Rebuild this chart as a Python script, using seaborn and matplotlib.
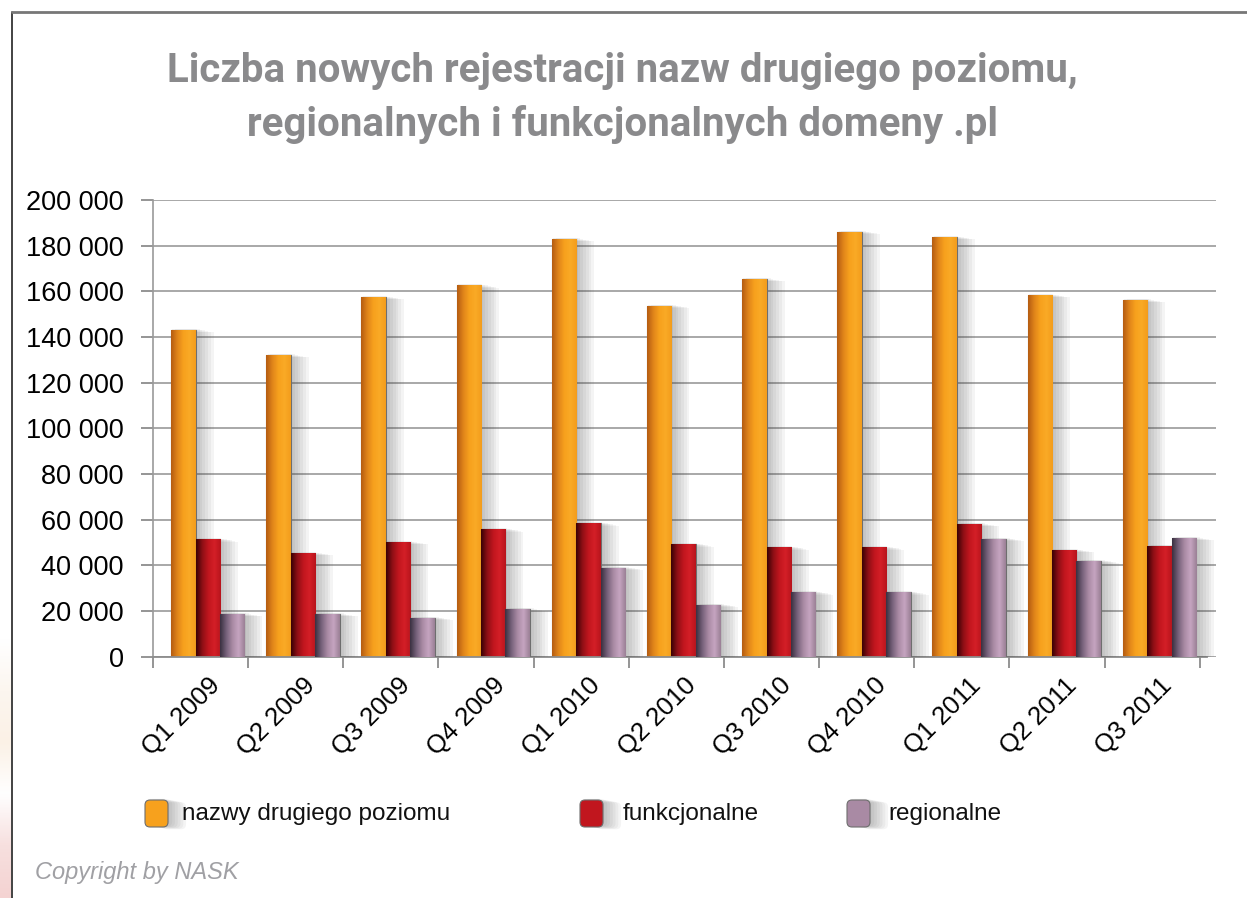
import matplotlib
matplotlib.use("Agg")
import matplotlib.pyplot as plt
import matplotlib.patheffects as pe
import numpy as np
import pandas as pd
import seaborn as sns
from matplotlib import font_manager
from matplotlib.colors import LinearSegmentedColormap
from matplotlib.lines import Line2D
from matplotlib.patches import FancyBboxPatch


kwartaly = ["Q1 2009", "Q2 2009", "Q3 2009", "Q4 2009", "Q1 2010", "Q2 2010",
            "Q3 2010", "Q4 2010", "Q1 2011", "Q2 2011", "Q3 2011"]
nazwy_drugiego_poziomu = [143100, 132100, 157400, 162600, 182900, 153700,
                          165400, 186100, 183700, 158300, 156200]
funkcjonalne = [51400, 45300, 50200, 55800, 58400, 49200,
                47900, 47900, 58100, 46700, 48500]
regionalne = [18700, 18700, 17100, 20900, 39000, 22800,
              28200, 28200, 51700, 42000, 52000]
serie = ["nazwy drugiego poziomu", "funkcjonalne", "regionalne"]
kolory = ["#F7A11D", "#C1161E", "#A98AA4"]
y_ticks = list(range(0, 200001, 20000))

tytul = "Liczba nowych rejestracji nazw drugiego poziomu,\nregionalnych i funkcjonalnych domeny .pl"

# gradients across each bar (left dark -> right light), like the shaded columns
gradienty = [
    ["#B45C12", "#E0841A", "#F7A11D", "#FAAA26", "#F39D1C"],
    ["#3A0205", "#8E0F15", "#C1161E", "#D41F27", "#B8141C"],
    ["#3A3040", "#76617A", "#A98AA4", "#C6A5C1", "#9A8096"],
]

nazwy_rodzin = {f.name for f in font_manager.fontManager.ttflist}
waski = "Liberation Sans Narrow" if "Liberation Sans Narrow" in nazwy_rodzin else "Roboto"

sns.set_theme(style="white")
plt.rcParams["font.family"] = ["Liberation Sans", "DejaVu Sans"]

df = pd.DataFrame({
    "kwartal": kwartaly * 3,
    "typ": np.repeat(serie, len(kwartaly)),
    "liczba": nazwy_drugiego_poziomu + funkcjonalne + regionalne,
})

fig = plt.figure(figsize=(12.47, 8.98), dpi=100)
ax = fig.add_axes([153 / 1247, 241.3 / 898, (1216 - 153) / 1247, 456.7 / 898])

sns.barplot(data=df, x="kwartal", y="liczba", hue="typ", palette=kolory,
            saturation=1, width=0.77, gap=0, legend=False, ax=ax,
            edgecolor="#6e6e6e", linewidth=0.8)

# soft drop shadow: several faint offset copies
cienie = [pe.SimplePatchShadow(offset=(d, -d / 5 + 1), shadow_rgbFace="0.25",
                               alpha=0.055)
          for d in (13, 11, 9, 7, 5, 3, 1)]
cienie.append(pe.Normal())

grad = np.linspace(0, 1, 64).reshape(1, -1)
n = len(kwartaly)
for i, bar in enumerate(ax.patches):
    typ = i // n
    cmap = LinearSegmentedColormap.from_list(f"g{typ}", gradienty[typ])
    bar.set_zorder(2 + typ * 0.3)
    bar.set_path_effects(cienie)
    x0, y0 = bar.get_x(), bar.get_y()
    w, h = bar.get_width(), bar.get_height()
    im = ax.imshow(grad, cmap=cmap, aspect="auto", interpolation="bicubic",
                   extent=(x0, x0 + w, y0, y0 + h), zorder=2.1 + typ * 0.3)
    im.set_clip_path(bar)

przes = 0.075  # bars sit a little right of the category centre in the original
ax.set_xlim(-0.5 - przes, 10.67 - przes)
ax.set_ylim(0, 200000)
ax.set_yticks(y_ticks)
ax.set_yticklabels([f"{v:,}".replace(",", " ") for v in y_ticks])
ax.yaxis.grid(True, color="#a8a8a8", lw=1.4)
ax.set_axisbelow(True)

ax.set_xticks(np.arange(-0.5, 11, 1) - przes)
ax.set_xticklabels([])
ax.set_xticks(range(n), minor=True)
ax.set_xticklabels(kwartaly, minor=True, rotation=45, ha="right", va="top",
                   rotation_mode="anchor", fontsize=18.5, color="black")
ax.tick_params(axis="x", which="major", length=8, width=1.3, color="#8c8c8c",
               direction="out", bottom=True)
ax.tick_params(axis="x", which="minor", length=0, pad=12, bottom=True)
ax.tick_params(axis="y", length=9, width=1.3, color="#8c8c8c", direction="out",
               left=True, pad=12, labelsize=19.5, labelcolor="black")
ax.set_xlabel("")
ax.set_ylabel("")
for s in ["top", "right"]:
    ax.spines[s].set_visible(False)
ax.spines["left"].set_color("#9a9a9a")
ax.spines["bottom"].set_color("#8c8c8c")
ax.spines["left"].set_linewidth(1.2)
ax.spines["bottom"].set_linewidth(1.3)
ax.spines["bottom"].set_bounds(-0.5 - przes, 10.58 - przes)

fig.text(0.499, 0.891, tytul, ha="center", va="center", fontsize=29,
         fontweight="bold", color="#8a8a8c", family=[waski, "DejaVu Sans"],
         linespacing=1.5)

# legend built by hand to keep the uneven spacing
legenda_x = [145, 580, 847]
tekst_x = [182, 623, 888]
for k in range(3):
    box = FancyBboxPatch((legenda_x[k] / 100, 0.71), 0.23, 0.27,
                         boxstyle="round,pad=0,rounding_size=0.05",
                         transform=fig.dpi_scale_trans, facecolor=kolory[k],
                         edgecolor="#6e6e6e", linewidth=0.8)
    box.set_path_effects(cienie)
    fig.patches.append(box)
    fig.text(tekst_x[k] / 1247, 1 - 814 / 898, serie[k], ha="left", va="center",
             fontsize=17.5, color="#111111")

fig.text(35 / 1247, 1 - 873 / 898, "Copyright by NASK", ha="left", va="center",
         fontsize=17, style="italic", color="#a0a0a4")

# frame of the picture
fig.add_artist(Line2D([12 / 1247, 12 / 1247], [0, 1 - 12 / 898],
                      transform=fig.transFigure, color="#222222", lw=1.2))
fig.add_artist(Line2D([12 / 1247, 1], [1 - 12 / 898, 1 - 12 / 898],
                      transform=fig.transFigure, color="#777777", lw=2))

# faint coloured strip at the bottom-left edge
pasek = fig.add_axes([0, 0, 11 / 1247, 260 / 898])
pasek_kolory = LinearSegmentedColormap.from_list(
    "pasek", ["#F4D3D2", "#F7E0DF", "#FFFFFF", "#FBF1E6", "#FCF6EF", "#FFFFFF"])
pasek.imshow(np.linspace(0, 1, 100).reshape(-1, 1), cmap=pasek_kolory,
             aspect="auto", origin="lower")
pasek.axis("off")

fig.savefig("out.png", dpi=100, facecolor="white")
